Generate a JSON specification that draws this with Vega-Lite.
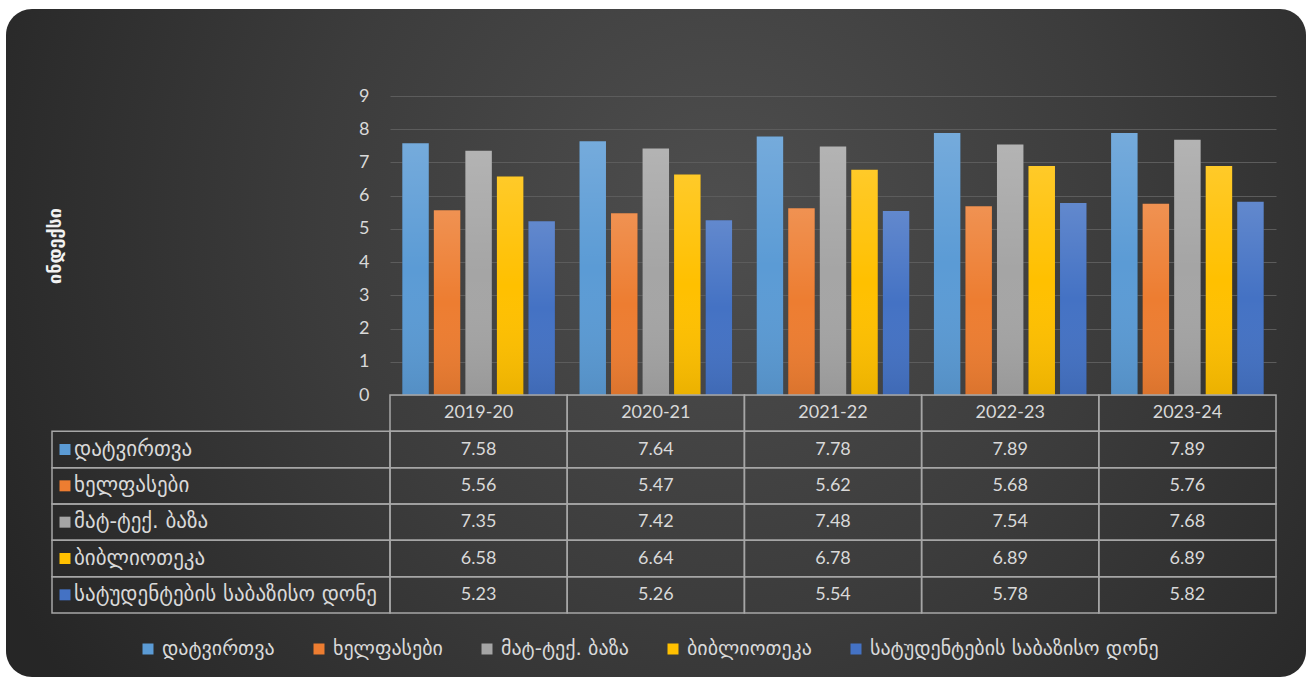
{
  "$schema": "https://vega.github.io/schema/vega-lite/v6.json",
  "width": 1300,
  "height": 668,
  "autosize": {"type": "none"},
  "padding": {"left": 6, "top": 9, "right": 4, "bottom": 1},
  "background": "#ffffff",
  "config": {
    "view": {
      "stroke": null,
      "cornerRadius": 26,
      "fill": {
        "gradient": "radial",
        "x1": 0.55, "y1": 0.4, "r1": 0,
        "x2": 0.55, "y2": 0.4, "r2": 0.62,
        "stops": [
          {"offset": 0, "color": "#4e4e4e"},
          {"offset": 0.5, "color": "#3c3c3c"},
          {"offset": 1, "color": "#262626"}
        ]
      }
    },
    "font": "Lato, DejaVu Sans, sans-serif"
  },
  "datasets": {
    "scores": [
      {"year": "2019-20", "series": "დატვირთვა", "value": 7.58},
      {"year": "2020-21", "series": "დატვირთვა", "value": 7.64},
      {"year": "2021-22", "series": "დატვირთვა", "value": 7.78},
      {"year": "2022-23", "series": "დატვირთვა", "value": 7.89},
      {"year": "2023-24", "series": "დატვირთვა", "value": 7.89},
      {"year": "2019-20", "series": "ხელფასები", "value": 5.56},
      {"year": "2020-21", "series": "ხელფასები", "value": 5.47},
      {"year": "2021-22", "series": "ხელფასები", "value": 5.62},
      {"year": "2022-23", "series": "ხელფასები", "value": 5.68},
      {"year": "2023-24", "series": "ხელფასები", "value": 5.76},
      {"year": "2019-20", "series": "მატ-ტექ. ბაზა", "value": 7.35},
      {"year": "2020-21", "series": "მატ-ტექ. ბაზა", "value": 7.42},
      {"year": "2021-22", "series": "მატ-ტექ. ბაზა", "value": 7.48},
      {"year": "2022-23", "series": "მატ-ტექ. ბაზა", "value": 7.54},
      {"year": "2023-24", "series": "მატ-ტექ. ბაზა", "value": 7.68},
      {"year": "2019-20", "series": "ბიბლიოთეკა", "value": 6.58},
      {"year": "2020-21", "series": "ბიბლიოთეკა", "value": 6.64},
      {"year": "2021-22", "series": "ბიბლიოთეკა", "value": 6.78},
      {"year": "2022-23", "series": "ბიბლიოთეკა", "value": 6.89},
      {"year": "2023-24", "series": "ბიბლიოთეკა", "value": 6.89},
      {"year": "2019-20", "series": "სატუდენტების საბაზისო დონე", "value": 5.23},
      {"year": "2020-21", "series": "სატუდენტების საბაზისო დონე", "value": 5.26},
      {"year": "2021-22", "series": "სატუდენტების საბაზისო დონე", "value": 5.54},
      {"year": "2022-23", "series": "სატუდენტების საბაზისო დონე", "value": 5.78},
      {"year": "2023-24", "series": "სატუდენტების საბაზისო დონე", "value": 5.82}
    ],
    "years": [
      {"year": "2019-20"}, {"year": "2020-21"}, {"year": "2021-22"}, {"year": "2022-23"}, {"year": "2023-24"}
    ],
    "series": [
      {"series": "დატვირთვა"},
      {"series": "ხელფასები"},
      {"series": "მატ-ტექ. ბაზა"},
      {"series": "ბიბლიოთეკა"},
      {"series": "სატუდენტების საბაზისო დონე"}
    ]
  },
  "layer": [
    {
      "data": {"name": "scores"},
      "encoding": {
        "x": {"field": "year", "type": "nominal", "scale": {"domain": ["2019-20", "2020-21", "2021-22", "2022-23", "2023-24"], "range": [384, 1270], "paddingInner": 0, "paddingOuter": 0}, "axis": null},
        "xOffset": {"field": "series", "type": "nominal", "scale": {"domain": ["დატვირთვა", "ხელფასები", "მატ-ტექ. ბაზა", "ბიბლიოთეკა", "სატუდენტების საბაზისო დონე"], "paddingInner": 0.16, "paddingOuter": 0.39}},
        "y": {
          "field": "value", "type": "quantitative",
          "scale": {"domain": [0, 9], "nice": false, "range": [386, 87]},
          "axis": {
            "orient": "left", "offset": -384,
            "values": [0, 1, 2, 3, 4, 5, 6, 7, 8, 9],
            "grid": true, "gridColor": "#5c5c5c", "gridWidth": 1,
            "domain": false, "ticks": false,
            "labelColor": "#d9d9d9", "labelFontSize": 18, "labelPadding": 21,
            "title": "ინდექსი", "titleColor": "#f2f2f2", "titleFontSize": 18, "titleFontWeight": "bold", "titlePadding": 294,
            "titleFont": "DejaVu Sans"
          }
        }
      },
      "layer": [
        {"mark": {"type": "bar", "fill": "#151515", "opacity": 0.35, "xOffset": 3}},
        {
          "mark": {"type": "bar", "opacity": 1},
          "encoding": {
            "color": {
              "field": "series", "type": "nominal",
              "scale": {
                "domain": ["დატვირთვა", "ხელფასები", "მატ-ტექ. ბაზა", "ბიბლიოთეკა", "სატუდენტების საბაზისო დონე"],
                "range": ["#5b9bd5", "#ed7d31", "#a5a5a5", "#ffc000", "#4472c4"]
              },
              "legend": {
                "orient": "none", "legendX": 132, "legendY": 630,
                "direction": "horizontal", "title": null,
                "symbolType": "square", "symbolSize": 121, "symbolStrokeWidth": 0, "symbolOpacity": 1,
                "labelFont": "DejaVu Sans", "labelFontSize": 20, "labelColor": "#d9d9d9", "labelLimit": 400,
                "columnPadding": 34, "labelOffset": 4
              }
            }
          }
        },
        {
          "mark": {
            "type": "bar",
            "fill": {
              "gradient": "linear", "x1": 0, "y1": 0, "x2": 0, "y2": 1,
              "stops": [
                {"offset": 0, "color": "rgba(255,255,255,0.16)"},
                {"offset": 0.5, "color": "rgba(255,255,255,0)"},
                {"offset": 1, "color": "rgba(0,0,0,0.08)"}
              ]
            }
          }
        }
      ]
    },
    {
      "layer": [
        {
          "data": {"name": "years"},
          "mark": {"type": "rect", "fill": "transparent", "stroke": "#a6a6a6", "strokeWidth": 1.5},
          "encoding": {
            "x": {"field": "year", "type": "nominal", "scale": {"domain": ["2019-20", "2020-21", "2021-22", "2022-23", "2023-24"], "range": [384, 1270], "paddingInner": 0, "paddingOuter": 0}, "axis": null},
            "y": {"datum": "header", "type": "nominal", "scale": {"domain": ["header", "დატვირთვა", "ხელფასები", "მატ-ტექ. ბაზა", "ბიბლიოთეკა", "სატუდენტების საბაზისო დონე"], "range": [386, 604], "paddingInner": 0, "paddingOuter": 0}, "axis": null}
          }
        },
        {
          "data": {"name": "years"},
          "mark": {"type": "text", "fontSize": 18, "color": "#d9d9d9"},
          "encoding": {
            "x": {"field": "year", "type": "nominal"},
            "y": {"datum": "header", "type": "nominal"},
            "text": {"field": "year"}
          }
        },
        {
          "data": {"name": "scores"},
          "mark": {"type": "rect", "fill": "transparent", "stroke": "#a6a6a6", "strokeWidth": 1.5},
          "encoding": {
            "x": {"field": "year", "type": "nominal"},
            "y": {"field": "series", "type": "nominal"}
          }
        },
        {
          "data": {"name": "scores"},
          "mark": {"type": "text", "fontSize": 18, "color": "#d9d9d9"},
          "encoding": {
            "x": {"field": "year", "type": "nominal"},
            "y": {"field": "series", "type": "nominal"},
            "text": {"field": "value", "type": "quantitative", "format": ".2f"}
          }
        }
      ]
    },
    {
      "data": {"name": "series"},
      "layer": [
        {
          "mark": {"type": "rect", "fill": "transparent", "stroke": "#a6a6a6", "strokeWidth": 1.5},
          "encoding": {
            "x": {"datum": "label", "type": "nominal", "scale": {"domain": ["label"], "range": [46, 384], "paddingInner": 0, "paddingOuter": 0}, "axis": null},
            "y": {"field": "series", "type": "nominal", "scale": {"domain": ["header", "დატვირთვა", "ხელფასები", "მატ-ტექ. ბაზა", "ბიბლიოთეკა", "სატუდენტების საბაზისო დონე"], "range": [386, 604], "paddingInner": 0, "paddingOuter": 0}, "axis": null}
          }
        },
        {
          "mark": {"type": "square", "size": 121, "opacity": 1, "xOffset": 13},
          "encoding": {
            "x": {"datum": "label", "type": "nominal", "bandPosition": 0},
            "y": {"field": "series", "type": "nominal"},
            "color": {"field": "series", "type": "nominal"}
          }
        },
        {
          "mark": {"type": "text", "align": "left", "dx": 22, "font": "DejaVu Sans", "fontSize": 21, "color": "#d9d9d9"},
          "encoding": {
            "x": {"datum": "label", "type": "nominal", "bandPosition": 0},
            "y": {"field": "series", "type": "nominal"},
            "text": {"field": "series"}
          }
        }
      ]
    }
  ],
  "resolve": {"scale": {"x": "independent", "y": "independent"}}
}
